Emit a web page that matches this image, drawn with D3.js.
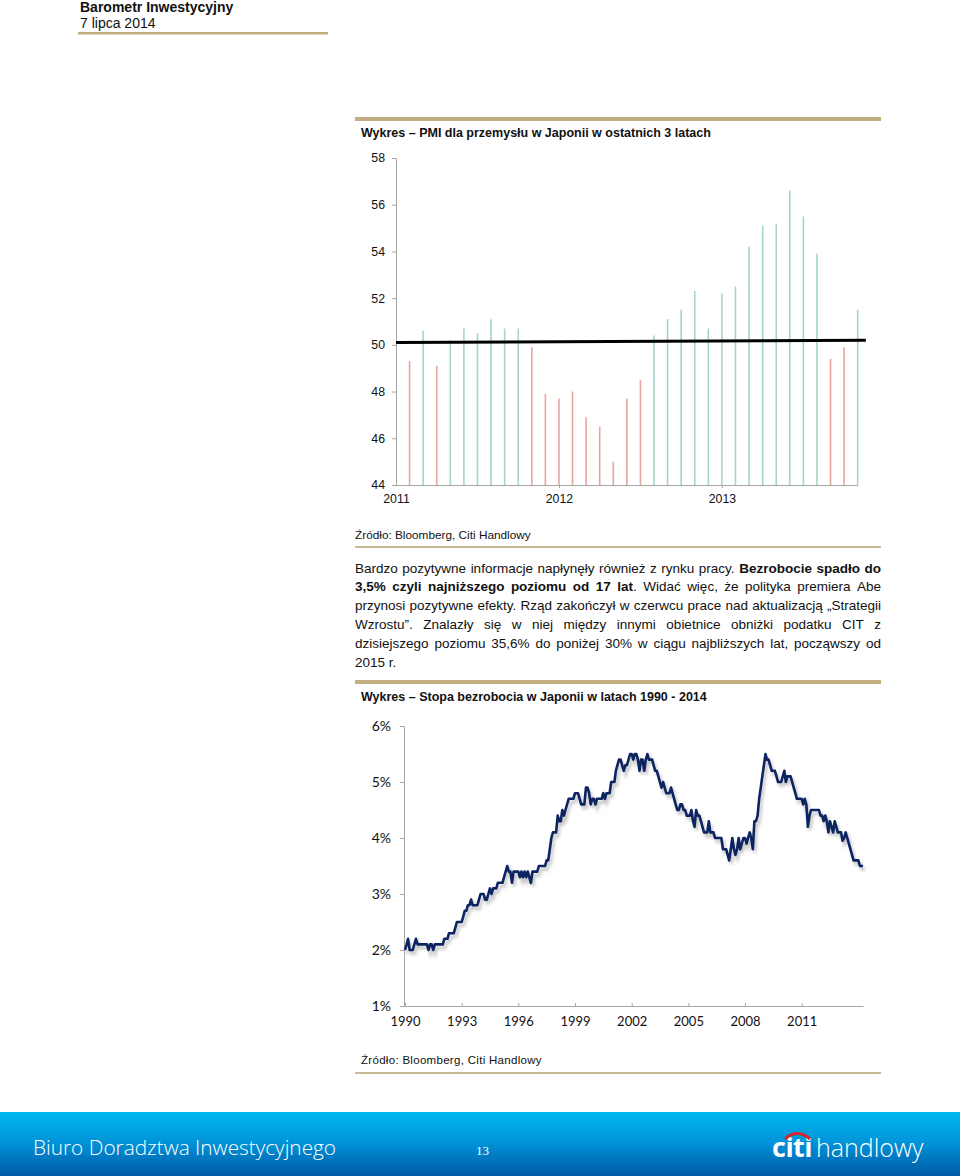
<!DOCTYPE html>
<html><head><meta charset="utf-8">
<script src="https://cdn.jsdelivr.net/npm/d3@7"></script>
<style>body{margin:0;background:#fff}svg{display:block}</style>
</head><body>
<svg id="c" width="960" height="1176"></svg>
<script>
// ---------- DATA ----------
const headerTitle = "Barometr Inwestycyjny";
const headerDate = "7 lipca 2014";

const pmiTitle = "Wykres – PMI dla przemysłu w Japonii w ostatnich 3 latach";
// monthly PMI, Sep 2011 .. Jun 2014
const pmiValues = [49.3, 50.6, 49.1, 50.2, 50.7, 50.5, 51.1, 50.7, 50.7, 49.9, 47.9, 47.7,
                   48.0, 46.9, 46.5, 45.0, 47.7, 48.5, 50.4, 51.1, 51.5, 52.3, 50.7, 52.2,
                   52.5, 54.2, 55.1, 55.2, 56.6, 55.5, 53.9, 49.4, 49.9, 51.5];
const pmiYTicks = [44, 46, 48, 50, 52, 54, 56, 58];
const pmiXTickIndex = [-1, 11, 23];
const pmiXTickLabels = ["2011", "2012", "2013"];
const pmiThresholdIndex = [-1, 33.6];
const pmiThresholdValues = [50.1, 50.2];
const sourceText = "Źródło: Bloomberg, Citi Handlowy";

const paragraphLines = [
  [["Bardzo pozytywne informacje napłynęły również z rynku pracy.", false], ["Bezrobocie spadło do", true]],
  [["3,5% czyli najniższego poziomu od 17 lat", true], [". Widać więc, że polityka premiera Abe", false, true]],
  [["przynosi pozytywne efekty. Rząd zakończył w czerwcu prace nad aktualizacją „Strategii", false]],
  [["Wzrostu”. Znalazły się w niej między innymi obietnice obniżki podatku CIT z", false]],
  [["dzisiejszego poziomu 35,6% do poniżej 30% w ciągu najbliższych lat, począwszy od", false]],
  [["2015 r.", false]]
];

const unempTitle = "Wykres – Stopa bezrobocia w Japonii w latach 1990 - 2014";
const unempStartYear = 1990;
// monthly unemployment rate (%), Jan 1990 onward
const unempValues = [
  2.0,2.1,2.2,2.0,2.0,2.0,2.1,2.2,2.1,2.1,2.1,2.1,
  2.1,2.1,2.1,2.0,2.1,2.1,2.0,2.1,2.1,2.1,2.1,2.1,
  2.1,2.2,2.2,2.2,2.3,2.3,2.3,2.3,2.4,2.5,2.5,2.5,
  2.5,2.6,2.7,2.7,2.8,2.8,2.9,2.8,2.8,2.8,2.8,2.9,
  3.0,3.0,3.0,2.9,2.9,3.0,3.1,3.0,3.1,3.1,3.1,3.2,
  3.2,3.2,3.2,3.3,3.4,3.5,3.4,3.4,3.2,3.4,3.4,3.4,
  3.4,3.3,3.4,3.3,3.4,3.3,3.4,3.3,3.2,3.4,3.4,3.4,
  3.4,3.5,3.5,3.5,3.5,3.5,3.6,3.6,3.8,4.0,4.1,4.1,
  4.1,4.4,4.3,4.3,4.5,4.4,4.5,4.6,4.7,4.7,4.7,4.7,
  4.8,4.8,4.8,4.7,4.6,4.6,4.6,4.9,4.9,4.8,4.6,4.7,
  4.7,4.6,4.7,4.7,4.7,4.7,4.8,4.7,4.8,4.8,4.8,5.0,
  5.0,5.0,5.2,5.3,5.4,5.4,5.3,5.2,5.3,5.3,5.4,5.5,
  5.5,5.4,5.5,5.5,5.4,5.2,5.4,5.4,5.2,5.4,5.5,5.4,
  5.4,5.4,5.3,5.2,5.2,5.1,5.0,4.9,5.0,4.9,4.8,4.8,
  4.8,4.9,4.8,4.7,4.6,4.5,4.5,4.6,4.6,4.5,4.5,4.4,
  4.4,4.4,4.5,4.3,4.2,4.5,4.4,4.4,4.3,4.2,4.1,4.1,
  4.1,4.3,4.1,4.1,4.1,4.0,4.0,4.0,4.0,4.0,3.8,3.8,
  3.8,3.7,3.6,3.8,4.0,3.8,3.7,3.8,4.0,3.8,3.9,4.0,
  4.0,3.9,4.0,4.1,4.0,3.8,4.3,4.3,4.4,4.7,4.9,5.1,
  5.3,5.5,5.4,5.4,5.3,5.2,5.2,5.2,5.1,5.0,5.0,5.0,
  5.1,5.2,5.0,5.1,5.1,5.1,5.0,4.9,4.8,4.7,4.7,4.7,
  4.7,4.6,4.7,4.6,4.2,4.4,4.5,4.5,4.5,4.5,4.5,4.5,
  4.4,4.4,4.3,4.4,4.3,4.1,4.3,4.2,4.1,4.3,4.2,4.1,
  4.1,4.1,3.95,4.0,4.1,4.0,3.9,3.8,3.7,3.6,3.6,3.6,
  3.6,3.5,3.5,3.5
];
const unempYTicks = [1, 2, 3, 4, 5, 6];
const unempXTickYears = [1990, 1993, 1996, 1999, 2002, 2005, 2008, 2011];

const footerText = "Biuro Doradztwa Inwestycyjnego";
const pageNumber = "13";

// ---------- DRAW ----------
const svg = d3.select("#c");
const defs = svg.append("defs");
const gold = "#c2ad80";
const sans = "Arial, 'Liberation Sans', sans-serif";
const cal = "Lato, 'Open Sans', sans-serif";

// header
svg.append("text").attr("x", 80).attr("y", 12).attr("font-family", sans).attr("font-size", 14)
  .attr("font-weight", "bold").attr("fill", "#111").text(headerTitle);
svg.append("text").attr("x", 80).attr("y", 28).attr("font-family", sans).attr("font-size", 14)
  .attr("fill", "#111").text(headerDate);
svg.append("rect").attr("x", 78).attr("y", 32).attr("width", 250).attr("height", 2.5).attr("fill", gold);

// ---- PMI chart ----
svg.append("rect").attr("x", 355).attr("y", 117).attr("width", 526).attr("height", 4).attr("fill", gold);
svg.append("text").attr("x", 361).attr("y", 137).attr("font-family", sans).attr("font-size", 12.5)
  .attr("font-weight", "bold").attr("fill", "#111").text(pmiTitle);

const px = d3.scaleLinear().domain([-1, pmiValues.length - 1]).range([396, 857.7]);
const py = d3.scaleLinear().domain([44, 58]).range([485, 158]);

const gpy = svg.append("g").attr("transform", `translate(${px(-1)},0)`)
  .call(d3.axisLeft(py).tickValues(pmiYTicks).tickFormat(d3.format("d")).tickSize(4).tickPadding(7));
const gpx = svg.append("g").attr("transform", `translate(0,${py(44)})`)
  .call(d3.axisBottom(px).tickValues(pmiXTickIndex).tickFormat((d, i) => pmiXTickLabels[i])
    .tickSizeInner(3).tickSizeOuter(0).tickPadding(6));
[gpy, gpx].forEach(g => {
  g.select(".domain").attr("stroke", "#a6a6a6");
  g.selectAll(".tick line").attr("stroke", "#a6a6a6");
  g.selectAll("text").attr("font-family", sans).attr("font-size", 12.3).attr("fill", "#111");
});
gpx.selectAll(".tick").filter(d => d === -1).select("line").remove();

svg.append("g").selectAll("line").data(pmiValues).join("line")
  .attr("x1", (d, i) => px(i)).attr("x2", (d, i) => px(i))
  .attr("y1", py(44)).attr("y2", d => py(d))
  .attr("stroke", d => d >= 50 ? "#a3d7c4" : "#e7a69e").attr("stroke-width", 1.6);

svg.append("path")
  .datum(pmiThresholdIndex.map((d, i) => [d, pmiThresholdValues[i]]))
  .attr("d", d3.line().x(d => px(d[0])).y(d => py(d[1])))
  .attr("stroke", "#000").attr("stroke-width", 3).attr("fill", "none");

svg.append("text").attr("x", 355).attr("y", 539).attr("font-family", sans).attr("font-size", 11.8)
  .attr("fill", "#111").text(sourceText);
svg.append("rect").attr("x", 355).attr("y", 546).attr("width", 526).attr("height", 2).attr("fill", "#c5b994");

// ---- paragraph (justified) ----
const paraX0 = 355, paraX1 = 881, paraY0 = 572.5, paraLH = 18.9, paraFS = 13.5;
const measure = svg.append("text").attr("font-family", sans).attr("font-size", paraFS).attr("visibility", "hidden");
function wlen(t, bold) {
  measure.attr("font-weight", bold ? "bold" : "normal").text(t);
  return measure.node().getComputedTextLength();
}
const spaceW = wlen("a a", false) - wlen("aa", false);
paragraphLines.forEach((segs, li) => {
  const words = [];
  segs.forEach(([txt, bold, glue]) => {
    const parts = txt.split(" ").filter(s => s.length);
    parts.forEach((p, k) => {
      words.push({ t: p, bold, glue: glue && k === 0 });
    });
  });
  const groups = [];
  words.forEach(w => {
    if (w.glue && groups.length) groups[groups.length - 1].push(w); else groups.push([w]);
  });
  const gw = groups.map(g => d3.sum(g, w => wlen(w.t, w.bold)));
  const total = d3.sum(gw);
  const last = li === paragraphLines.length - 1;
  const gap = last ? spaceW : (paraX1 - paraX0 - total) / (groups.length - 1);
  let x = paraX0;
  const y = paraY0 + li * paraLH;
  groups.forEach((g, gi) => {
    let xx = x;
    g.forEach(w => {
      svg.append("text").attr("x", xx).attr("y", y).attr("font-family", sans).attr("font-size", paraFS)
        .attr("font-weight", w.bold ? "bold" : "normal").attr("fill", "#111").text(w.t);
      xx += wlen(w.t, w.bold);
    });
    x += gw[gi] + gap;
  });
});
measure.remove();

// ---- Unemployment chart ----
svg.append("rect").attr("x", 355).attr("y", 680).attr("width", 526).attr("height", 4).attr("fill", gold);
svg.append("text").attr("x", 361).attr("y", 701).attr("font-family", sans).attr("font-size", 12.5)
  .attr("font-weight", "bold").attr("fill", "#111").text(unempTitle);

const dates = unempValues.map((v, i) => new Date(unempStartYear, i, 1));
const ux = d3.scaleTime().domain([dates[0], dates[dates.length - 1]]).range([405, 863]);
const uy = d3.scaleLinear().domain([1, 6]).range([1006, 726]);

const guy = svg.append("g").attr("transform", `translate(404,0)`)
  .call(d3.axisLeft(uy).tickValues(unempYTicks).tickFormat(d => d + "%").tickSize(4).tickPadding(9));
const gux = svg.append("g").attr("transform", `translate(0,${uy(1)})`)
  .call(d3.axisBottom(ux).tickValues(unempXTickYears.map(y => new Date(y, 0, 1)))
    .tickFormat(d3.timeFormat("%Y")).tickSizeInner(-3).tickSizeOuter(0).tickPadding(11));
guy.select(".domain").attr("stroke", "#a6a6a6");
guy.selectAll(".tick line").attr("stroke", "#a6a6a6");
guy.selectAll("text").attr("font-family", cal).attr("font-size", 14).attr("fill", "#111");
gux.select(".domain").attr("stroke", "#a6a6a6");
gux.selectAll(".tick line").attr("stroke", "#a6a6a6");
gux.selectAll("text").attr("font-family", cal).attr("font-size", 13).attr("fill", "#111");

const shadow = defs.append("filter").attr("id", "sh").attr("x", "-5%").attr("y", "-5%").attr("width", "110%").attr("height", "120%");
shadow.append("feGaussianBlur").attr("stdDeviation", 1.6);

const uline = d3.line().x((d, i) => ux(dates[i])).y(d => uy(d));
svg.append("path").datum(unempValues).attr("d", uline)
  .attr("transform", "translate(2,3.5)").attr("fill", "none")
  .attr("stroke", "#9a9a9a").attr("stroke-opacity", 0.55).attr("stroke-width", 3).attr("filter", "url(#sh)");
svg.append("path").datum(unempValues).attr("d", uline)
  .attr("fill", "none").attr("stroke", "#0c2461").attr("stroke-width", 2.6).attr("stroke-linejoin", "round");

svg.append("text").attr("x", 361).attr("y", 1064).attr("font-family", sans).attr("font-size", 11.5)
  .attr("letter-spacing", 0.3).attr("fill", "#111").text(sourceText);
svg.append("rect").attr("x", 355).attr("y", 1072).attr("width", 526).attr("height", 2).attr("fill", "#c5b994");

// ---- footer ----
const grad = defs.append("linearGradient").attr("id", "fg").attr("x1", 0).attr("y1", 0).attr("x2", 0).attr("y2", 1);
grad.append("stop").attr("offset", 0).attr("stop-color", "#00b8ef");
grad.append("stop").attr("offset", 0.45).attr("stop-color", "#0096da");
grad.append("stop").attr("offset", 1).attr("stop-color", "#0059a6");
svg.append("rect").attr("x", 0).attr("y", 1112).attr("width", 960).attr("height", 64).attr("fill", "url(#fg)");
svg.append("text").attr("x", 33).attr("y", 1155).attr("font-family", "'Open Sans', sans-serif")
  .attr("font-weight", 300).attr("font-size", 20.8).attr("fill", "#fff").text(footerText);
svg.append("text").attr("x", 476).attr("y", 1155).attr("font-family", "'Liberation Serif', serif")
  .attr("font-size", 13).attr("fill", "#fff").text(pageNumber);
svg.append("text").attr("x", 772).attr("y", 1157).attr("font-family", "'Open Sans', sans-serif")
  .attr("font-weight", 700).attr("font-size", 27).attr("fill", "#fff").attr("letter-spacing", -0.5).text("citi");
svg.append("text").attr("x", 816).attr("y", 1157).attr("font-family", "'Open Sans', sans-serif")
  .attr("font-weight", 300).attr("font-size", 25).attr("fill", "#fff").text("handlowy");
svg.append("path").attr("d", "M785,1139 Q797,1128 810,1139").attr("fill", "none")
  .attr("stroke", "#d6252b").attr("stroke-width", 3);
</script>
</body></html>
